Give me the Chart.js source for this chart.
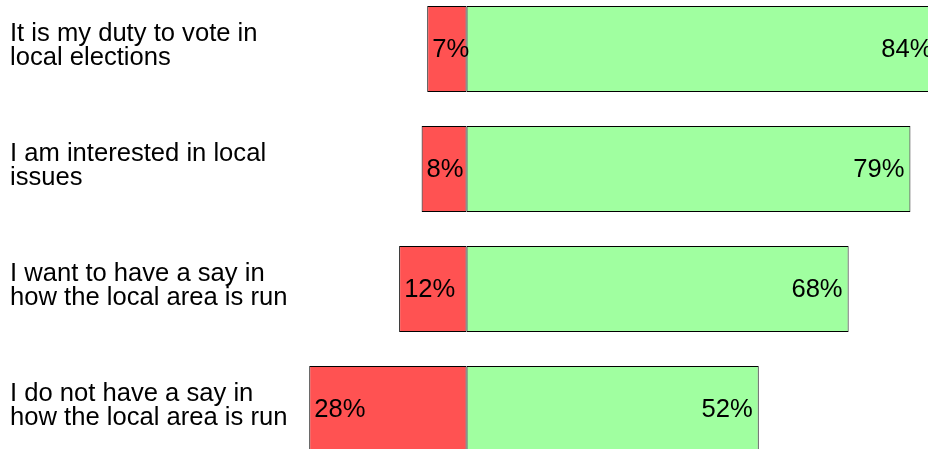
<!DOCTYPE html>
<html>
<head>
<meta charset="utf-8">
<script src="https://cdn.jsdelivr.net/npm/chart.js@4/dist/chart.umd.min.js"></script>
<style>
  html, body { margin: 0; padding: 0; background: #fff; }
  #wrap { position: relative; width: 928px; height: 449px; overflow: hidden; }
  #chart { position: absolute; left: 0; top: -11px; }
</style>
</head>
<body>
<div id="wrap"><canvas id="chart" width="961" height="480"></canvas></div>
<script>
// statements, one per row (split over two lines like the original)
var categories = [
  ["It is my duty to vote in", "local elections"],
  ["I am interested in local", "issues"],
  ["I want to have a say in", "how the local area is run"],
  ["I do not have a say in", "how the local area is run"]
];
// percentages disagreeing (drawn to the left of zero) and agreeing
var disagree = [7, 8, 12, 28];
var agree = [84, 79, 68, 52];

var labelFont = { family: '"Liberation Sans", Arial, sans-serif', size: 25.6, lineHeight: '24px' };

// writes the percentage inside each bar
var barLabels = {
  id: 'barLabels',
  afterDatasetsDraw: function (chart) {
    var ctx = chart.ctx;
    ctx.save();
    ctx.font = labelFont.size + 'px ' + labelFont.family;
    ctx.fillStyle = '#000';
    ctx.textBaseline = 'middle';

    chart.getDatasetMeta(0).data.forEach(function (bar, i) {
      ctx.textAlign = 'left';
      ctx.fillText(disagree[i] + '%', bar.x + 5, bar.y + 1);
    });
    chart.getDatasetMeta(1).data.forEach(function (bar, i) {
      ctx.textAlign = 'right';
      ctx.fillText(agree[i] + '%', bar.x - 6, bar.y + 1);
    });
    ctx.restore();
  }
};

var chart = new Chart(document.getElementById('chart'), {
  type: 'bar',
  data: {
    labels: categories,
    datasets: [{
      label: 'Disagree',
      data: disagree.map(function (v) { return -v; }),
      backgroundColor: '#ff5252',
      borderColor: '#000',
      borderWidth: 1,
      borderSkipped: false,
      categoryPercentage: 86 / 120,
      barPercentage: 1
    }, {
      label: 'Agree',
      data: agree,
      backgroundColor: '#a0ffa0',
      borderColor: '#000',
      borderWidth: 1,
      borderSkipped: false,
      categoryPercentage: 86 / 120,
      barPercentage: 1
    }]
  },
  options: {
    indexAxis: 'y',
    responsive: false,
    animation: false,
    layout: { padding: { left: 10, right: 0, top: 0, bottom: 0 } },
    plugins: {
      legend: { display: false },
      tooltip: { enabled: false }
    },
    scales: {
      x: {
        display: false,
        stacked: true,
        min: -30,
        max: 88
      },
      y: {
        stacked: true,
        grid: { display: false },
        border: { display: false },
        afterFit: function (scale) {
          scale.width = 288;
          scale.paddingTop = 0;
          scale.paddingBottom = 0;
        },
        ticks: {
          crossAlign: 'far',
          color: '#000',
          font: labelFont,
          labelOffset: -3
        }
      }
    }
  },
  plugins: [barLabels]
});
</script>
</body>
</html>
